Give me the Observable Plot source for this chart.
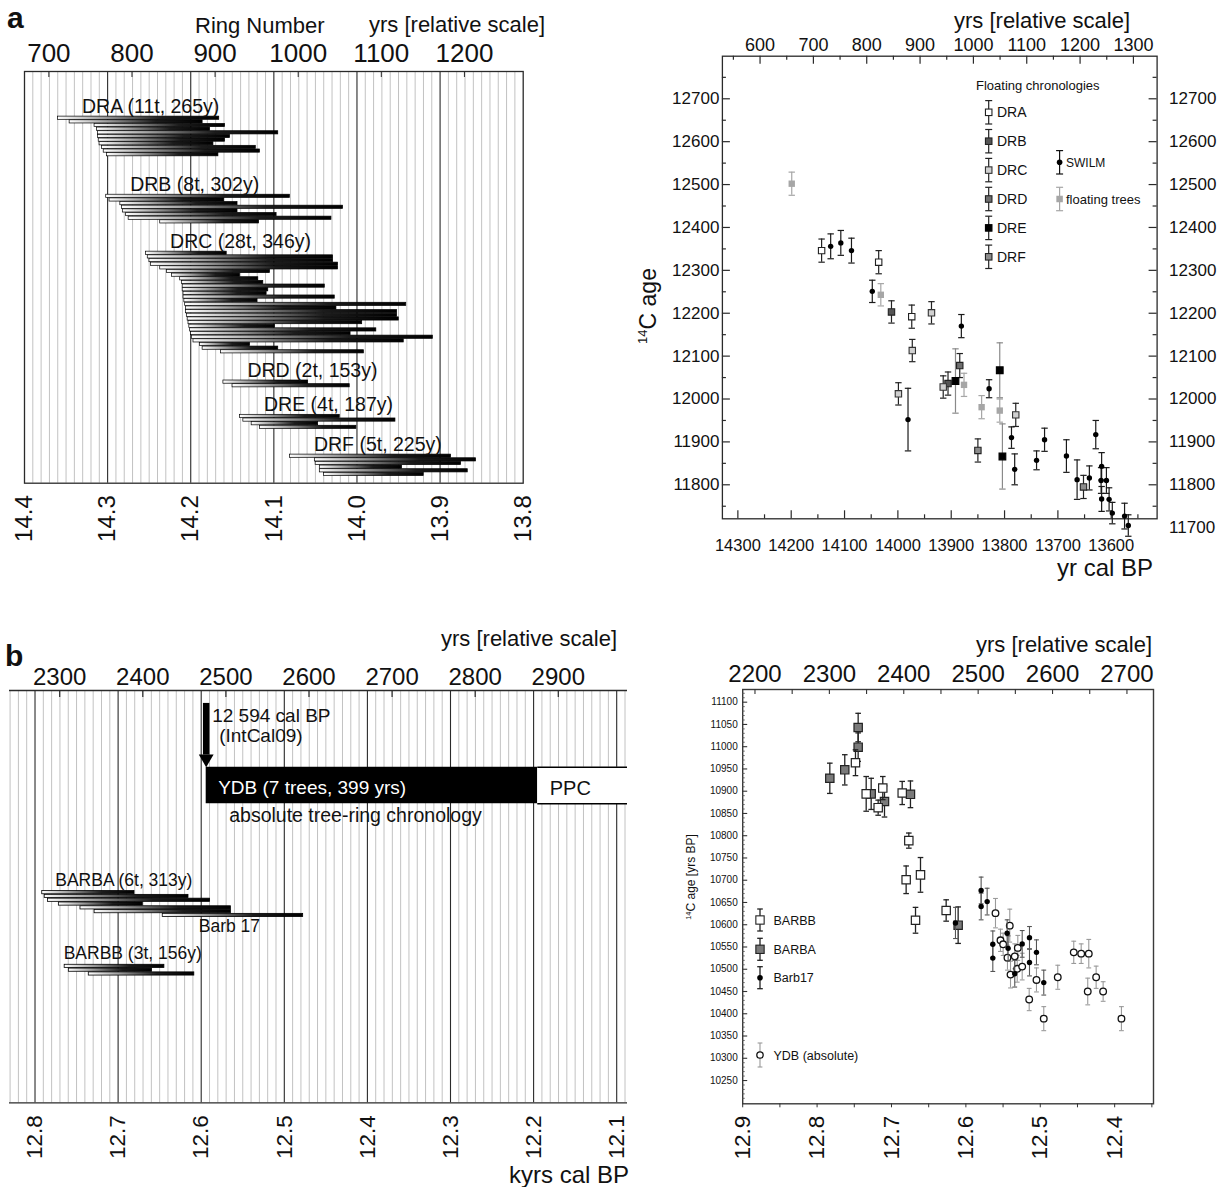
<!DOCTYPE html>
<html><head><meta charset="utf-8">
<script src="https://cdn.jsdelivr.net/npm/d3@7"></script>
<script src="https://cdn.jsdelivr.net/npm/@observablehq/plot@0.6"></script>
<style>
html,body{margin:0;padding:0;background:#fff;}
#root{position:relative;width:1217px;height:1187px;overflow:hidden;background:#fff;}
</style></head><body><div id="root"></div>
<script>
// ================= DATA =================
// Panel a (left): floating chronologies, tree spans in ring numbers (relative years)
const DR_LABELS = ["DRA (11t, 265y)", "DRB (8t, 302y)", "DRC (28t, 346y)", "DRD (2t, 153y)", "DRE (4t, 187y)", "DRF (5t, 225y)"];
const DRA_START = [711, 725, 755, 758, 759, 759, 760, 761, 764, 766, 770];
const DRA_END   = [905, 885, 912, 894, 976, 918, 912, 898, 949, 954, 904];
const DRB_START = [769, 773, 786, 788, 789, 793, 796, 834];
const DRB_END   = [990, 911, 927, 1054, 927, 974, 1040, 953];
const DRC_START = [817, 819, 821, 823, 834, 842, 848, 858, 860, 861, 861, 862, 862, 863, 864, 865, 865, 866, 867, 868, 869, 870, 871, 872, 874, 882, 885, 907];
const DRC_END   = [914, 1042, 1042, 1048, 1048, 966, 930, 952, 958, 1032, 964, 962, 1044, 951, 1130, 1046, 1119, 1119, 1121, 1077, 972, 1094, 1063, 1162, 1127, 942, 976, 1079];
const DRD_START = [910, 921];
const DRD_END   = [1012, 1062];
const DRE_START = [930, 934, 944, 954];
const DRE_END   = [1050, 1117, 1024, 1070];
const DRF_START = [990, 1020, 1021, 1026, 1026, 1031];
const DRF_END   = [1184, 1214, 1196, 1125, 1204, 1151];
const RING_TICKS_A = [700, 800, 900, 1000, 1100, 1200];
const KYR_TICKS_A = [14.4, 14.3, 14.2, 14.1, 14.0, 13.9, 13.8];

// Panel a (right): [yr cal BP, 14C age, 1-sigma]
const AR_DRA = [[14143, 12346, 27], [14036, 12319, 27], [13974, 12192, 27]];
const AR_DRB = [[14012, 12203, 26], [13906, 12036, 27]];
const AR_DRC = [[13937, 12201, 26], [13973, 12113, 26], [13999, 12012, 26], [13915, 12028, 26], [13779, 11963, 27]];
const AR_DRD = [[13884, 12078, 28]];
const AR_DRE = [[13892, 12042, 75], [13809, 12067, 64], [13804, 11866, 76]];
const AR_DRF = [[13850, 11880, 27], [13652, 11795, 27]];
const AR_SWILM = [[14126, 12356, 29], [14107, 12364, 29], [14087, 12346, 29], [14048, 12251, 26], [13881, 12170, 27],
  [13981, 11952, 73], [13829, 12024, 21], [13787, 11910, 25], [13781, 11836, 36], [13740, 11857, 22], [13725, 11905, 27],
  [13684, 11867, 38], [13664, 11812, 46], [13641, 11816, 28], [13629, 11917, 33], [13618, 11843, 32], [13619, 11810, 30],
  [13609, 11810, 30], [13618, 11767, 29], [13604, 11766, 27], [13598, 11734, 25], [13575, 11727, 30], [13568, 11705, 25]];
const AR_FLOAT = [[14199, 12502, 27], [14032, 12243, 26], [13876, 12033, 27], [13843, 11981, 27], [13809, 11973, 27]];
const CAL_TICKS_AR = [14300, 14200, 14100, 14000, 13900, 13800, 13700, 13600];
const REL_TICKS_AR = [600, 700, 800, 900, 1000, 1100, 1200, 1300];
const C14_TICKS_AR = [11800, 11900, 12000, 12100, 12200, 12300, 12400, 12500, 12600, 12700];
const AR_LEGEND = ["DRA", "DRB", "DRC", "DRD", "DRE", "DRF"];

// Panel b (left): Barbaresco series (relative years) and YDB chronology
const BARBA_START = [2279, 2282, 2286, 2299, 2325, 2342];
const BARBA_END   = [2390, 2455, 2481, 2400, 2506, 2506];
const BARB17_SPAN = [2424, 2593];
const BARBB_START = [2306, 2311, 2335];
const BARBB_END   = [2426, 2411, 2462];
const BL_LABELS = ["BARBA (6t, 313y)", "BARBB (3t, 156y)", "Barb 17"];
const YDB_START_BP = 12594, YDB_YEARS = 399;
const YDB_TEXT = ["12 594 cal BP", "(IntCal09)", "YDB (7 trees, 399 yrs)", "PPC", "absolute tree-ring chronology"];
const REL_TICKS_BL = [2300, 2400, 2500, 2600, 2700, 2800, 2900];
const KYR_TICKS_BL = [12.8, 12.7, 12.6, 12.5, 12.4, 12.3, 12.2, 12.1];

// Panel b (right): [kyr cal BP, 14C age, 1-sigma]
const BR_BARBB = [[12.7484, 10964, 29], [12.734, 10894, 39], [12.7117, 10907, 26], [12.7179, 10863, 17], [12.6856, 10896, 26],
  [12.6767, 10789, 17], [12.6803, 10701, 31], [12.661, 10712, 39], [12.6677, 10610, 29], [12.6265, 10632, 24]];
const BR_BARBA = [[12.7829, 10929, 34], [12.7628, 10948, 34], [12.7448, 11043, 32], [12.7448, 10999, 32], [12.7273, 10894, 35],
  [12.7094, 10877, 35], [12.6745, 10893, 30], [12.6104, 10599, 41]];
const BR_BARB17 = [[12.614, 10604, 35], [12.5795, 10677, 30], [12.5795, 10641, 30], [12.5714, 10652, 30], [12.5638, 10556, 30],
  [12.5638, 10525, 30], [12.5445, 10581, 30], [12.5432, 10547, 28], [12.5343, 10490, 30], [12.5243, 10557, 30],
  [12.5145, 10571, 25], [12.5145, 10515, 30], [12.5051, 10538, 28], [12.4953, 10470, 28]];
const BR_YDB = [[12.5602, 10626, 33], [12.541, 10598, 37], [12.5535, 10565, 25], [12.5499, 10556, 25], [12.5441, 10526, 28],
  [12.5302, 10548, 28], [12.5343, 10529, 28], [12.531, 10501, 30], [12.54, 10488, 30], [12.5243, 10506, 30], [12.5149, 10432, 25],
  [12.5051, 10476, 27], [12.4953, 10389, 27], [12.4765, 10482, 27], [12.455, 10538, 25], [12.445, 10535, 22], [12.4348, 10535, 32],
  [12.4362, 10450, 30], [12.4249, 10482, 25], [12.4155, 10450, 22], [12.3909, 10389, 27]];
const REL_TICKS_BR = [2200, 2300, 2400, 2500, 2600, 2700];
const KYR_TICKS_BR = [12.9, 12.8, 12.7, 12.6, 12.5, 12.4];
const C14_TICKS_BR = d3.range(10250, 11101, 50);
const BR_LEGEND = ["BARBB", "BARBA", "Barb17", "YDB (absolute)"];

// ================= HELPERS =================
const FONT = "Liberation Sans, Arial, Helvetica, sans-serif";
const STYLE = {fontFamily: FONT, color: "#111", background: "transparent", overflow: "visible"};
const root = document.getElementById("root");
function place(el, left, top) {
  el.style.position = "absolute"; el.style.left = left + "px"; el.style.top = top + "px";
  root.appendChild(el);
}
function addGradient(svg, id) {
  const defs = document.createElementNS("http://www.w3.org/2000/svg", "defs");
  defs.innerHTML = `<linearGradient id="${id}" x1="0" x2="1" y1="0" y2="0">
    <stop offset="0" stop-color="#ffffff"/><stop offset="0.3" stop-color="#9a9a9a"/>
    <stop offset="0.65" stop-color="#1c1c1c"/><stop offset="1" stop-color="#000"/></linearGradient>`;
  svg.insertBefore(defs, svg.firstChild);
}
const capSym = {draw(ctx, size) { const r = Math.sqrt(size / Math.PI); ctx.moveTo(-r, 0); ctx.lineTo(r, 0); }};
const toRows = pts => pts.map(([x, y, e]) => ({x, y, e}));
const fmtInt = d => String(Math.round(d));
function errorMarks(pts, stroke, capR, sw = 1.2) {
  const rows = toRows(pts);
  return [
    Plot.ruleX(rows, {x: "x", y1: d => d.y - d.e, y2: d => d.y + d.e, stroke, strokeWidth: sw}),
    Plot.dot(rows, {x: "x", y: d => d.y - d.e, symbol: capSym, r: capR, stroke, strokeWidth: sw, fill: "none"}),
    Plot.dot(rows, {x: "x", y: d => d.y + d.e, symbol: capSym, r: capR, stroke, strokeWidth: sw, fill: "none"})
  ];
}
function markerMarks(pts, symbol, r, fill, stroke, sw = 1.1) {
  return Plot.dot(toRows(pts), {x: "x", y: "y", symbol, r, fill, stroke, strokeWidth: sw});
}

// ================= PANEL a LEFT =================
{
  const L = {width: 560, height: 560, mL: 24, mR: 37.3, mT: 71, mB: 77.3};
  const fh = L.height - L.mT - L.mB;
  const ROWS = fh / 3.65;
  const kyrOfRing = r => 15.0707 - r / 1000;
  const ringOfKyr = k => (15.0707 - k) * 1000;
  const groups = [[DRA_START, DRA_END], [DRB_START, DRB_END], [DRC_START, DRC_END], [DRD_START, DRD_END], [DRE_START, DRE_END], [DRF_START, DRF_END]];
  const GAPS = [12.8, 11.4, 8.6, 8.3, 8.4, 7.9]; // layout: row gap before each group
  const bars = [], labels = [];
  let row = 0;
  groups.forEach(([s, e], gi) => {
    row += GAPS[gi];
    s.forEach((st, i) => bars.push({start: st, end: e[i], row: row + i}));
    labels.push({label: DR_LABELS[gi], start: d3.min(s), row});
    row += s.length - 1;
  });
  const minor = d3.range(1381, 1440).filter(i => i % 10 !== 0).map(i => i / 100);
  const svg = Plot.plot({
    width: L.width, height: L.height, marginLeft: L.mL, marginRight: L.mR, marginTop: L.mT, marginBottom: L.mB,
    style: STYLE,
    x: {domain: [14.4, 13.8]},
    y: {domain: [0, ROWS], reverse: true, axis: null},
    marks: [
      Plot.ruleX(minor, {stroke: "#c2c2c2", strokeWidth: 1}),
      Plot.ruleX(KYR_TICKS_A.slice(1, -1), {stroke: "#2a2a2a", strokeWidth: 1.1}),
      Plot.frame({stroke: "#2a2a2a", strokeWidth: 1.3}),
      Plot.tickX(RING_TICKS_A, {x: kyrOfRing, insetBottom: fh - 6, stroke: "#2a2a2a"}),
      Plot.rect(bars, {x1: d => kyrOfRing(d.start), x2: d => kyrOfRing(d.end), y1: d => d.row - 0.44, y2: d => d.row + 0.44,
        fill: "url(#gradA)", stroke: "#000", strokeWidth: 0.7}),
      Plot.text(labels, {x: d => kyrOfRing(d.start), y: "row", text: "label", dx: 24, dy: -11.5, textAnchor: "start", fontSize: 19.5, fill: "#111"}),
      Plot.axisX(RING_TICKS_A.map(kyrOfRing), {anchor: "top", label: null, tickSize: 0, tickPadding: 10, fontSize: 26, tickFormat: k => fmtInt(ringOfKyr(k))}),
      Plot.axisX(KYR_TICKS_A, {anchor: "bottom", label: null, tickSize: 0, tickPadding: 12, fontSize: 24, tickRotate: -90, tickFormat: k => k.toFixed(1)})
    ]
  });
  addGradient(svg, "gradA");
  place(svg, 0, 0);
}

// ================= PANEL a RIGHT =================
{
  const L = {width: 577, height: 600, mL: 81.9, mR: 60.4, mT: 55.7, mB: 81.7};
  const fw = L.width - L.mL - L.mR, fh = L.height - L.mT - L.mB;
  const calOfRel = r => 14858.4 - r;
  const relOfCal = c => fmtInt(14858.4 - c);
  const relMinor = d3.range(550, 1301, 100);
  const calMinor = d3.range(14250, 13549, -100);
  const c14Minor = d3.range(11750, 12751, 100);
  const svg = Plot.plot({
    width: L.width, height: L.height, marginLeft: L.mL, marginRight: L.mR, marginTop: L.mT, marginBottom: L.mB,
    style: STYLE,
    x: {domain: [14329, 13514]},
    y: {domain: [11720.7, 12799.3]},
    marks: [
      Plot.frame({stroke: "#2a2a2a", strokeWidth: 1.3}),
      Plot.tickX(CAL_TICKS_AR, {x: d => d, insetTop: fh - 8, stroke: "#2a2a2a", strokeWidth: 1.2}),
      Plot.tickX(calMinor, {x: d => d, insetTop: fh - 4, stroke: "#2a2a2a", strokeWidth: 1.2}),
      Plot.tickX(REL_TICKS_AR, {x: calOfRel, insetBottom: fh - 8, stroke: "#2a2a2a", strokeWidth: 1.2}),
      Plot.tickX(relMinor, {x: calOfRel, insetBottom: fh - 4, stroke: "#2a2a2a", strokeWidth: 1.2}),
      Plot.tickY(C14_TICKS_AR, {y: d => d, insetRight: fw - 8, stroke: "#2a2a2a", strokeWidth: 1.2}),
      Plot.tickY(c14Minor, {y: d => d, insetRight: fw - 4, stroke: "#2a2a2a", strokeWidth: 1.2}),
      Plot.tickY(C14_TICKS_AR, {y: d => d, insetLeft: fw - 8, stroke: "#2a2a2a", strokeWidth: 1.2}),
      Plot.tickY(c14Minor, {y: d => d, insetLeft: fw - 4, stroke: "#2a2a2a", strokeWidth: 1.2}),
      ...errorMarks(AR_FLOAT, "#a6a6a6", 3.2),
      markerMarks(AR_FLOAT, "square", 3.6, "#a6a6a6", "none"),
      ...errorMarks(AR_DRE, "#8a8a8a", 3.2),
      ...errorMarks(AR_DRA, "#222", 3.2), ...errorMarks(AR_DRB, "#222", 3.2), ...errorMarks(AR_DRC, "#222", 3.2),
      ...errorMarks(AR_DRD, "#222", 3.2), ...errorMarks(AR_DRF, "#222", 3.2), ...errorMarks(AR_SWILM, "#1a1a1a", 3.2),
      markerMarks(AR_DRA, "square", 3.6, "#fff", "#222"),
      markerMarks(AR_DRB, "square", 3.6, "#555", "#222"),
      markerMarks(AR_DRC, "square", 3.6, "#d0d0d0", "#333"),
      markerMarks(AR_DRD, "square", 3.6, "#6e6e6e", "#222"),
      markerMarks(AR_DRE, "square", 3.8, "#000", "#000"),
      markerMarks(AR_DRF, "square", 3.6, "#8c8c8c", "#222"),
      markerMarks(AR_SWILM, "circle", 2.7, "#000", "none"),
      Plot.axisX(CAL_TICKS_AR, {anchor: "bottom", label: null, tickSize: 0, tickPadding: 20, fontSize: 16.5, tickFormat: fmtInt}),
      Plot.axisX(REL_TICKS_AR.map(calOfRel), {anchor: "top", label: null, tickSize: 0, tickPadding: 5, fontSize: 18, tickFormat: relOfCal}),
      Plot.axisY(C14_TICKS_AR, {anchor: "left", label: null, tickSize: 0, tickPadding: 3, fontSize: 17, tickFormat: fmtInt}),
      Plot.axisY(C14_TICKS_AR, {anchor: "right", label: null, tickSize: 0, tickPadding: 12, fontSize: 17, tickFormat: fmtInt}),
      Plot.text([11700], {y: d => d, frameAnchor: "right", dx: 12, textAnchor: "start", text: d => String(d), fontSize: 17})
    ]
  });
  place(svg, 640, 0);
}

// ================= PANEL b LEFT =================
{
  const L = {width: 640, height: 567, mL: 9, mR: 13, mT: 70, mB: 84.7};
  const fh = L.height - L.mT - L.mB;
  const ROWS = fh / 3.8;
  const XMAX = 12.087;
  const kyrOfRing = r => 15.0703 - r / 1000;
  const ringOfKyr = k => (15.0703 - k) * 1000;
  const GAPS = [53.2, 13.4]; // layout: row gap before each group
  const YDB_ROWS = [20.2, 29.8], ARROW_ROWS = [3.4, 17], HEAD_ROW = 17.95; // layout rows
  const bars = [];
  const rowA = GAPS[0];
  BARBA_START.forEach((s, i) => bars.push({start: s, end: BARBA_END[i], row: rowA + i}));
  const r17 = rowA + BARBA_START.length;
  bars.push({start: BARB17_SPAN[0], end: BARB17_SPAN[1], row: r17});
  const rowB = r17 + GAPS[1];
  BARBB_START.forEach((s, i) => bars.push({start: s, end: BARBB_END[i], row: rowB + i}));
  const ydbX1 = YDB_START_BP / 1000, ydbX2 = (YDB_START_BP - YDB_YEARS) / 1000;
  const minor = d3.range(1209, 1284).filter(i => i % 10 !== 0).map(i => i / 100);
  const svg = Plot.plot({
    width: L.width, height: L.height, marginLeft: L.mL, marginRight: L.mR, marginTop: L.mT, marginBottom: L.mB,
    style: STYLE,
    x: {domain: [12.8307, XMAX]},
    y: {domain: [0, ROWS], reverse: true, axis: null},
    marks: [
      Plot.ruleX(minor, {stroke: "#c2c2c2", strokeWidth: 1}),
      Plot.ruleX(KYR_TICKS_BL, {stroke: "#2a2a2a", strokeWidth: 1.1}),
      Plot.ruleY([0, ROWS], {stroke: "#2a2a2a", strokeWidth: 1.3}),
      Plot.tickX(REL_TICKS_BL, {x: kyrOfRing, insetBottom: fh - 7, stroke: "#2a2a2a", strokeWidth: 1.2}),
      Plot.rect([YDB_TEXT[2]], {x1: () => ydbX1, x2: () => ydbX2, y1: () => YDB_ROWS[0], y2: () => YDB_ROWS[1], fill: "#000"}),
      Plot.rect([YDB_TEXT[3]], {x1: () => ydbX2, x2: () => XMAX, y1: () => YDB_ROWS[0], y2: () => YDB_ROWS[1], fill: "#fff"}),
      Plot.ruleY(YDB_ROWS, {x1: ydbX2, x2: XMAX, stroke: "#000", strokeWidth: 1.5}),
      Plot.ruleX([ydbX1], {y1: ARROW_ROWS[0], y2: ARROW_ROWS[1], stroke: "#000", strokeWidth: 6.5}),
      Plot.dot([ydbX1], {x: d => d, y: () => HEAD_ROW, symbol: "triangle", rotate: 180, r: 5.5, fill: "#000"}),
      Plot.text([YDB_TEXT[0]], {x: () => ydbX1, y: () => 6.6, text: d => d, dx: 6, textAnchor: "start", fontSize: 19}),
      Plot.text([YDB_TEXT[1]], {x: () => ydbX1, y: () => 12, text: d => d, dx: 13, textAnchor: "start", fontSize: 19}),
      Plot.text([YDB_TEXT[2]], {x: () => ydbX1, y: () => 25.7, text: d => d, dx: 12, textAnchor: "start", fontSize: 19, fill: "#fff"}),
      Plot.text([YDB_TEXT[3]], {x: () => ydbX2, y: () => 25.9, text: d => d, dx: 12, textAnchor: "start", fontSize: 20}),
      Plot.text([YDB_TEXT[4]], {x: () => ydbX1, y: () => 32.9, text: d => d, dx: 23, textAnchor: "start", fontSize: 19.5}),
      Plot.rect(bars, {x1: d => kyrOfRing(d.start), x2: d => kyrOfRing(d.end), y1: d => d.row - 0.42, y2: d => d.row + 0.42,
        fill: "url(#gradB)", stroke: "#000", strokeWidth: 0.8}),
      Plot.text([BL_LABELS[0]], {x: () => kyrOfRing(d3.min(BARBA_START)), y: () => rowA, text: d => d, dx: 13, dy: -12.5, textAnchor: "start", fontSize: 17.5}),
      Plot.text([BL_LABELS[1]], {x: () => kyrOfRing(d3.min(BARBB_START)), y: () => rowB, text: d => d, dx: -1, dy: -13, textAnchor: "start", fontSize: 17.5}),
      Plot.text([BL_LABELS[2]], {x: () => kyrOfRing(BARB17_SPAN[0]), y: () => r17, text: d => d, dx: 36, dy: 11, textAnchor: "start", fontSize: 17.5}),
      Plot.axisX(REL_TICKS_BL.map(kyrOfRing), {anchor: "top", label: null, tickSize: 0, tickPadding: 6, fontSize: 24, tickFormat: k => fmtInt(ringOfKyr(k))}),
      Plot.axisX(KYR_TICKS_BL, {anchor: "bottom", label: null, tickSize: 0, tickPadding: 12.5, fontSize: 22.5, tickRotate: -90, tickFormat: k => k.toFixed(1)})
    ]
  });
  addGradient(svg, "gradB");
  place(svg, 0, 620);
}

// ================= PANEL b RIGHT =================
{
  const L = {width: 577, height: 567, mL: 102.2, mR: 64, mT: 69, mB: 83.7};
  const fw = L.width - L.mL - L.mR, fh = L.height - L.mT - L.mB;
  const kyrOfRing = r => 15.0835 - r / 1000;
  const ringOfKyr = k => fmtInt((15.0835 - k) * 1000);
  const relAll = d3.range(2200, 2701, 50);
  const c14Minor = d3.range(10200, 11121, 10).filter(v => v % 50 !== 0);
  const xMinor = d3.range(1290, 1234, -5).map(i => i / 100);
  const svg = Plot.plot({
    width: L.width, height: L.height, marginLeft: L.mL, marginRight: L.mR, marginTop: L.mT, marginBottom: L.mB,
    style: STYLE,
    x: {domain: [12.9, 12.3478]},
    y: {domain: [10197.7, 11128.5]},
    marks: [
      Plot.frame({stroke: "#3a3a3a", strokeWidth: 1.4}),
      Plot.tickX(relAll, {x: kyrOfRing, insetBottom: fh - 5, stroke: "#333", strokeWidth: 1.1}),
      Plot.tickY(C14_TICKS_BR, {y: d => d, insetRight: fw - 5, stroke: "#333", strokeWidth: 1.1}),
      Plot.tickY(c14Minor, {y: d => d, insetRight: fw - 2.5, stroke: "#555", strokeWidth: 0.9}),
      ...errorMarks(BR_YDB, "#9a9a9a", 2.4, 1.1),
      markerMarks(BR_YDB, "circle", 3.3, "#fff", "#111", 1.3),
      ...errorMarks(BR_BARBA, "#222", 2.8, 1.3),
      markerMarks(BR_BARBA, "square", 4.7, "#7a7a7a", "#222", 1.2),
      ...errorMarks(BR_BARBB, "#222", 2.8, 1.3),
      markerMarks(BR_BARBB, "square", 4.7, "#fff", "#222", 1.2),
      ...errorMarks(BR_BARB17, "#555", 2.4, 1.1),
      markerMarks(BR_BARB17, "circle", 2.7, "#000", "none"),
      Plot.axisX(xMinor, {anchor: "bottom", label: null, tickSize: 4, tickFormat: () => "", stroke: "#333"}),
      Plot.axisX(KYR_TICKS_BR, {anchor: "bottom", label: null, tickSize: 0, tickPadding: 12, fontSize: 22.5, tickRotate: -90, tickFormat: k => k.toFixed(1)}),
      Plot.axisX(REL_TICKS_BR.map(kyrOfRing), {anchor: "top", label: null, tickSize: 0, tickPadding: 8, fontSize: 24, tickFormat: ringOfKyr}),
      Plot.axisY(C14_TICKS_BR, {anchor: "left", label: null, tickSize: 0, tickPadding: 5, fontSize: 10, tickFormat: fmtInt})
    ]
  });
  place(svg, 640, 620);
}

// ================= OVERLAY: titles & legends =================
{
  const sq = (x, y, s, fill, stroke) => `<rect x="${x - s / 2}" y="${y - s / 2}" width="${s}" height="${s}" fill="${fill}" stroke="${stroke}" stroke-width="1.1"/>`;
  const eb = (x, y, e, w, stroke, sw = 1.2) => `<line x1="${x}" x2="${x}" y1="${y - e}" y2="${y + e}" stroke="${stroke}" stroke-width="${sw}"/>` +
    `<line x1="${x - w}" x2="${x + w}" y1="${y - e}" y2="${y - e}" stroke="${stroke}" stroke-width="${sw}"/>` +
    `<line x1="${x - w}" x2="${x + w}" y1="${y + e}" y2="${y + e}" stroke="${stroke}" stroke-width="${sw}"/>`;
  const fills = {DRA: ["#fff", "#222"], DRB: ["#555", "#222"], DRC: ["#d0d0d0", "#333"], DRD: ["#6e6e6e", "#222"], DRE: ["#000", "#000"], DRF: ["#8c8c8c", "#222"]};
  let legA = `<text x="976" y="90" font-size="13">Floating chronologies</text>`;
  AR_LEGEND.forEach((k, i) => {
    const y = 112.3 + i * 28.9;
    legA += eb(988.7, y, 11.7, 3.5, "#222") + sq(988.7, y, 6.5, fills[k][0], fills[k][1]) + `<text x="997" y="${y + 5}" font-size="14">${k}</text>`;
  });
  legA += eb(1059.6, 162.3, 11.7, 3.5, "#111") + `<circle cx="1059.6" cy="162.3" r="2.8" fill="#000"/><text x="1066" y="166.5" font-size="12">SWILM</text>`;
  legA += eb(1059.6, 199, 11.7, 3.5, "#a6a6a6") + sq(1059.6, 199, 6.5, "#a6a6a6", "none") + `<text x="1066" y="203.5" font-size="13">floating trees</text>`;

  const legBy = [920, 949.3, 977.7, 1055];
  let legB = "";
  legB += eb(760, legBy[0], 11, 2.8, "#222", 1.3) + sq(760, legBy[0], 8.3, "#fff", "#222") + `<text x="773.5" y="${legBy[0] + 4.5}" font-size="12.5">${BR_LEGEND[0]}</text>`;
  legB += eb(760, legBy[1], 11, 2.8, "#222", 1.3) + sq(760, legBy[1], 8.3, "#7a7a7a", "#222") + `<text x="773.5" y="${legBy[1] + 4.5}" font-size="12.5">${BR_LEGEND[1]}</text>`;
  legB += eb(760, legBy[2], 11, 2.8, "#222", 1.3) + `<circle cx="760" cy="${legBy[2]}" r="2.8" fill="#000"/><text x="773.5" y="${legBy[2] + 4.5}" font-size="12.5">${BR_LEGEND[2]}</text>`;
  legB += eb(760, legBy[3], 12, 2.4, "#9a9a9a", 1.1) + `<circle cx="760" cy="${legBy[3]}" r="3.2" fill="#fff" stroke="#111" stroke-width="1.3"/><text x="773.5" y="${legBy[3] + 4.5}" font-size="12.5">${BR_LEGEND[3]}</text>`;

  const ov = `<svg xmlns="http://www.w3.org/2000/svg" width="1217" height="1187" style="font-family:${FONT};pointer-events:none" fill="#111">
    <text x="7" y="28" font-size="30" font-weight="bold">a</text>
    <text x="195" y="33" font-size="22">Ring Number</text>
    <text x="369" y="32" font-size="22">yrs [relative scale]</text>
    <text x="954" y="28" font-size="22">yrs [relative scale]</text>
    <text x="1153" y="576" font-size="24" text-anchor="end">yr cal BP</text>
    <text transform="translate(656,306) rotate(-90)" text-anchor="middle" font-size="23"><tspan font-size="13" dy="-9">14</tspan><tspan dy="9">C age</tspan></text>
    ${legA}
    <text x="5" y="666" font-size="30" font-weight="bold">b</text>
    <text x="441" y="646" font-size="22">yrs [relative scale]</text>
    <text x="629" y="1183" font-size="24" text-anchor="end">kyrs cal BP</text>
    <text x="976" y="652" font-size="22">yrs [relative scale]</text>
    <text transform="translate(695,877) rotate(-90)" text-anchor="middle" font-size="12"><tspan font-size="7.5" dy="-4.5">14</tspan><tspan dy="4.5">C age [yrs BP]</tspan></text>
    ${legB}
  </svg>`;
  const wrap = document.createElement("div");
  wrap.innerHTML = ov;
  place(wrap.firstElementChild, 0, 0);
}
</script></body></html>
